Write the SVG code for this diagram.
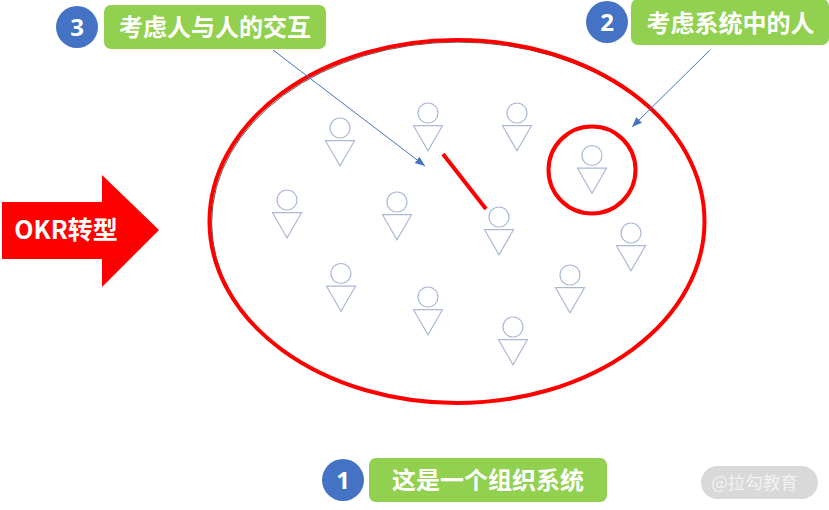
<svg xmlns="http://www.w3.org/2000/svg" xmlns:xlink="http://www.w3.org/1999/xlink" width="829" height="510" viewBox="0 0 829 510">
<style>
.lbl{font-family:"Noto Sans CJK SC","Liberation Sans",sans-serif;font-weight:700;fill:#fff;font-size:24px;text-anchor:middle}
.num{font-family:"Open Sans","Liberation Sans",sans-serif;font-weight:700;fill:#fff;font-size:24px;text-anchor:middle}
.pill{fill:#92d050}
.badge{fill:#4472c4}
.p-head,.p-body{fill:#fff;stroke:#a9b8d6;stroke-width:1.2}
.ring{fill:none;stroke:#f00;stroke-width:4}
.arr{fill:none;stroke:#4472c4;stroke-width:1;marker-end:url(#ah)}
</style>
<defs>
<marker id="ah" markerUnits="userSpaceOnUse" markerWidth="12" markerHeight="10" refX="10" refY="4" orient="auto"><path d="M0 0L10 4L0 8z" fill="#4472c4"/></marker>
<g id="person"><circle class="p-head" cx="0" cy="0" r="10"/><path class="p-body" d="M-14.5 12.700H14.500L0 37.800z"/></g>
</defs>
<rect width="829" height="510" fill="#fff"/>
<g id="organisation">
<ellipse cx="458.200" cy="222.700" rx="246.600" ry="180.600" fill="none" stroke="#333" stroke-width="0.800"/>
<ellipse class="ring" cx="457" cy="221.500" rx="247.500" ry="181.500"/>
</g>
<g id="people">
<use id="person-1" href="#person" x="340" y="128"/>
<use id="person-2" href="#person" x="428" y="113"/>
<use id="person-3" href="#person" x="517" y="113"/>
<use id="person-4" href="#person" x="592" y="155.500"/>
<use id="person-5" href="#person" x="287" y="200"/>
<use id="person-6" href="#person" x="397" y="202"/>
<use id="person-7" href="#person" x="499" y="217"/>
<use id="person-8" href="#person" x="631" y="233"/>
<use id="person-9" href="#person" x="341" y="273.500"/>
<use id="person-10" href="#person" x="428" y="297"/>
<use id="person-11" href="#person" x="570" y="275"/>
<use id="person-12" href="#person" x="513" y="327"/>
</g>
<g id="highlight"><circle class="ring" cx="592" cy="170" r="43.500"/></g>
<g id="connectors">
<line x1="443" y1="154" x2="486" y2="209" stroke="#f00" stroke-width="4"/>
<line class="arr" x1="273" y1="50" x2="425" y2="166"/>
<line class="arr" x1="710" y1="50" x2="632" y2="127"/>
</g>
<g id="okr-arrow">
<path d="M2 202H102V175L159 230L102 287V259H2z" fill="#f00"/>
<text x="66" y="239" font-family="'Noto Sans CJK SC','Liberation Sans',sans-serif" font-weight="700" font-size="25" fill="#fff" text-anchor="middle">OKR转型</text>
</g>
<g id="label-3">
<circle class="badge" cx="77" cy="27" r="21"/><text class="num" x="77" y="36">3</text>
<rect class="pill" x="104" y="5" width="222" height="44" rx="7"/><text class="lbl" x="215" y="36">考虑人与人的交互</text>
</g>
<g id="label-2">
<circle class="badge" cx="607" cy="22" r="21"/><text class="num" x="607" y="31">2</text>
<rect class="pill" x="631" y="-1" width="198" height="46" rx="7"/><text class="lbl" x="730.500" y="32">考虑系统中的人</text>
</g>
<g id="label-1">
<circle class="badge" cx="343" cy="480" r="21"/><text class="num" x="343" y="489">1</text>
<rect class="pill" x="369" y="458" width="238" height="44" rx="7"/><text class="lbl" x="488" y="489">这是一个组织系统</text>
</g>
<g id="watermark">
<rect x="701" y="466" width="117" height="33" rx="16.500" fill="#d9d9d9"/>
<text x="754.500" y="489" font-family="'Noto Sans CJK SC','Liberation Sans',sans-serif" font-size="17.500" fill="#f2f2f2" text-anchor="middle">@拉勾教育</text>
</g>
</svg>
